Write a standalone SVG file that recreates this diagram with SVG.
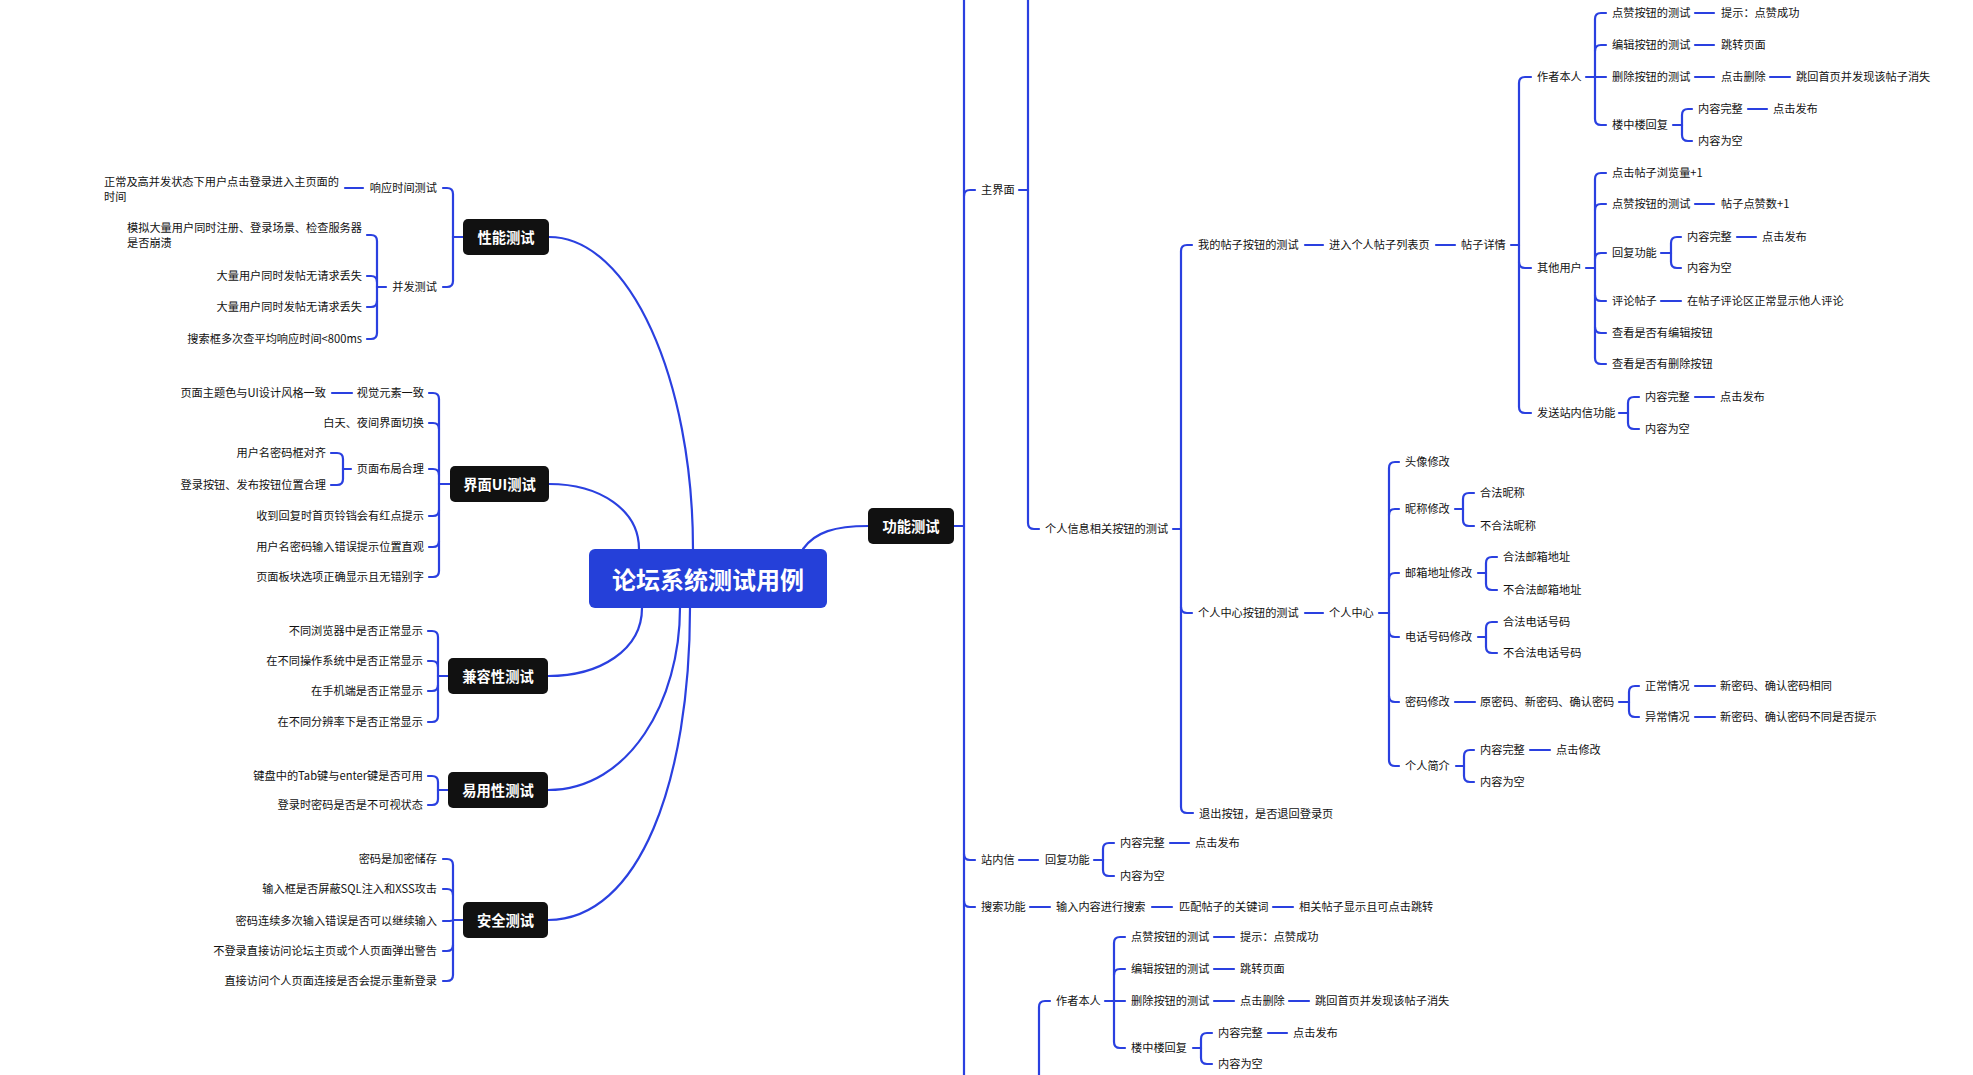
<svg xmlns="http://www.w3.org/2000/svg" width="1973" height="1075" viewBox="0 0 1973 1075">
<style>
.t{font-family:"Noto Sans CJK SC","Liberation Sans",sans-serif;font-size:11.2px;fill:#111;dominant-baseline:central}
.e{text-anchor:end}
.n{font-family:"Noto Sans CJK SC","Liberation Sans",sans-serif;font-size:14.3px;font-weight:bold;fill:#fff;text-anchor:middle;dominant-baseline:central}
.r{font-family:"Noto Sans CJK SC","Liberation Sans",sans-serif;font-size:24px;font-weight:bold;fill:#fff;text-anchor:middle;dominant-baseline:central}
.c path{fill:none;stroke:#2a40e0;stroke-width:2.2;stroke-linecap:round}
.box{fill:#111}
.up{transform:translate(0px,-1px)}
</style>
<rect width="1973" height="1075" fill="#fff"/>
<g class="c" id="connectors">
<path d="M549,237 C630,237 693,380 693,549"/>
<path d="M549,484 C600,484 639,510 639,549"/>
<path d="M548,676 C600,676 642,650 642,608"/>
<path d="M548,790 C630,790 680,700 680,608"/>
<path d="M548,920 C640,920 690,780 690,608"/>
<path d="M803,549 C815,532 835,526 868,526"/>
<path d="M463,237 H453"/>
<path d="M453,237 V194 Q453,188 447,188 H443"/>
<path d="M453,237 V281 Q453,287 447,287 H443"/>
<path d="M363,188 H345"/>
<path d="M386,287 H377"/>
<path d="M377,287 V241 Q377,235 371,235 H367"/>
<path d="M377,282 Q377,276 371,276 H367"/>
<path d="M377,301 Q377,307 371,307 H367"/>
<path d="M377,287 V333 Q377,339 371,339 H367"/>
<path d="M450,484 H439"/>
<path d="M439,484 V399 Q439,393 433,393 H429"/>
<path d="M439,429 Q439,423 433,423 H429"/>
<path d="M439,475 Q439,469 433,469 H429"/>
<path d="M439,510 Q439,516 433,516 H429"/>
<path d="M439,541 Q439,547 433,547 H429"/>
<path d="M439,484 V571 Q439,577 433,577 H429"/>
<path d="M352,393 H332"/>
<path d="M351,469 H343"/>
<path d="M343,469 V459 Q343,453 337,453 H331"/>
<path d="M343,469 V479 Q343,485 337,485 H331"/>
<path d="M448,676 H438"/>
<path d="M438,676 V637 Q438,631 432,631 H428"/>
<path d="M438,667 Q438,661 432,661 H428"/>
<path d="M438,685 Q438,691 432,691 H428"/>
<path d="M438,676 V716 Q438,722 432,722 H428"/>
<path d="M448,790 H438"/>
<path d="M438,790 V782 Q438,776 432,776 H428"/>
<path d="M438,790 V799 Q438,805 432,805 H428"/>
<path d="M463,920 H453"/>
<path d="M453,920 V865 Q453,859 447,859 H443"/>
<path d="M453,895 Q453,889 447,889 H443"/>
<path d="M453,920 Q453,921 447,921 H443"/>
<path d="M453,945 Q453,951 447,951 H443"/>
<path d="M453,920 V975 Q453,981 447,981 H443"/>
<path d="M954,526 H964"/>
<path d="M964,0 V1075"/>
<path d="M964,196 Q964,190 970,190 H975"/>
<path d="M964,854 Q964,860 970,860 H975"/>
<path d="M964,901 Q964,907 970,907 H975"/>
<path d="M1019,190 H1028"/>
<path d="M1028,0 V523 Q1028,529 1034,529 H1039"/>
<path d="M1173,529 H1181"/>
<path d="M1181,529 V251 Q1181,245 1187,245 H1192"/>
<path d="M1181,607 Q1181,613 1187,613 H1192"/>
<path d="M1181,529 V807 Q1181,813 1187,813 H1193"/>
<path d="M1305,245 H1323"/>
<path d="M1436,245 H1455"/>
<path d="M1511,245 H1519"/>
<path d="M1519,245 V83 Q1519,77 1525,77 H1531"/>
<path d="M1519,262 Q1519,268 1525,268 H1531"/>
<path d="M1519,245 V407 Q1519,413 1525,413 H1531"/>
<path d="M1586,77 H1595"/>
<path d="M1595,77 V19 Q1595,13 1601,13 H1606"/>
<path d="M1595,51 Q1595,45 1601,45 H1606"/>
<path d="M1595,77 H1606"/>
<path d="M1595,77 V119 Q1595,125 1601,125 H1606"/>
<path d="M1695,13 H1714"/>
<path d="M1695,45 H1714"/>
<path d="M1695,77 H1714"/>
<path d="M1770,77 H1790"/>
<path d="M1673,125 H1682"/>
<path d="M1682,125 V115 Q1682,109 1688,109 H1692"/>
<path d="M1682,125 V135 Q1682,141 1688,141 H1692"/>
<path d="M1748,109 H1767"/>
<path d="M1586,268 H1595"/>
<path d="M1595,268 V179 Q1595,173 1601,173 H1606"/>
<path d="M1595,210 Q1595,204 1601,204 H1606"/>
<path d="M1595,259 Q1595,253 1601,253 H1606"/>
<path d="M1595,295 Q1595,301 1601,301 H1606"/>
<path d="M1595,327 Q1595,333 1601,333 H1606"/>
<path d="M1595,268 V358 Q1595,364 1601,364 H1606"/>
<path d="M1695,204 H1714"/>
<path d="M1661,253 H1671"/>
<path d="M1671,253 V243 Q1671,237 1677,237 H1681"/>
<path d="M1671,253 V262 Q1671,268 1677,268 H1681"/>
<path d="M1737,237 H1756"/>
<path d="M1661,301 H1681"/>
<path d="M1619,413 H1628"/>
<path d="M1628,413 V403 Q1628,397 1634,397 H1639"/>
<path d="M1628,413 V423 Q1628,429 1634,429 H1639"/>
<path d="M1695,397 H1714"/>
<path d="M1305,613 H1323"/>
<path d="M1379,613 H1389"/>
<path d="M1389,613 V468 Q1389,462 1395,462 H1399"/>
<path d="M1389,515 Q1389,509 1395,509 H1399"/>
<path d="M1389,579 Q1389,573 1395,573 H1399"/>
<path d="M1389,631 Q1389,637 1395,637 H1399"/>
<path d="M1389,696 Q1389,702 1395,702 H1399"/>
<path d="M1389,613 V760 Q1389,766 1395,766 H1399"/>
<path d="M1455,509 H1463"/>
<path d="M1463,509 V499 Q1463,493 1469,493 H1474"/>
<path d="M1463,509 V520 Q1463,526 1469,526 H1474"/>
<path d="M1478,573 H1486"/>
<path d="M1486,573 V563 Q1486,557 1492,557 H1497"/>
<path d="M1486,573 V584 Q1486,590 1492,590 H1497"/>
<path d="M1478,637 H1486"/>
<path d="M1486,637 V628 Q1486,622 1492,622 H1497"/>
<path d="M1486,637 V647 Q1486,653 1492,653 H1497"/>
<path d="M1455,702 H1475"/>
<path d="M1619,702 H1629"/>
<path d="M1629,702 V692 Q1629,686 1635,686 H1639"/>
<path d="M1629,702 V711 Q1629,717 1635,717 H1639"/>
<path d="M1695,686 H1715"/>
<path d="M1695,717 H1715"/>
<path d="M1456,766 H1464"/>
<path d="M1464,766 V756 Q1464,750 1470,750 H1474"/>
<path d="M1464,766 V776 Q1464,782 1470,782 H1474"/>
<path d="M1530,750 H1550"/>
<path d="M1019,860 H1038"/>
<path d="M1094,860 H1103"/>
<path d="M1103,860 V849 Q1103,843 1109,843 H1114"/>
<path d="M1103,860 V870 Q1103,876 1109,876 H1114"/>
<path d="M1170,843 H1189"/>
<path d="M1030,907 H1050"/>
<path d="M1152,907 H1172"/>
<path d="M1273,907 H1293"/>
<path d="M1039,1075 V1007 Q1039,1001 1045,1001 H1050"/>
<path d="M1105,1001 H1114"/>
<path d="M1114,1001 V943 Q1114,937 1120,937 H1125"/>
<path d="M1114,975 Q1114,969 1120,969 H1125"/>
<path d="M1114,1001 H1125"/>
<path d="M1114,1001 V1042 Q1114,1048 1120,1048 H1125"/>
<path d="M1214,937 H1234"/>
<path d="M1214,969 H1234"/>
<path d="M1214,1001 H1234"/>
<path d="M1289,1001 H1309"/>
<path d="M1193,1048 H1201"/>
<path d="M1201,1048 V1039 Q1201,1033 1207,1033 H1212"/>
<path d="M1201,1048 V1058 Q1201,1064 1207,1064 H1212"/>
<path d="M1268,1033 H1287"/>
</g>

<g id="root"><rect x="589" y="549" width="238" height="59" rx="6" fill="#2540d9"/><text class="r" x="708" y="578">论坛系统测试用例</text></g>
<g id="n-perf"><rect class="box" x="463" y="219" width="86" height="36" rx="5"/><text class="n" x="506" y="236">性能测试</text></g>
<g id="n-ui"><rect class="box" x="450" y="466" width="99" height="36" rx="5"/><text class="n" x="499.5" y="483">界面UI测试</text></g>
<g id="n-compat"><rect class="box" x="448" y="658" width="100" height="36" rx="5"/><text class="n" x="498" y="675">兼容性测试</text></g>
<g id="n-usab"><rect class="box" x="448" y="772" width="100" height="36" rx="5"/><text class="n" x="498" y="789">易用性测试</text></g>
<g id="n-sec"><rect class="box" x="463" y="902" width="85" height="36" rx="5"/><text class="n" x="505.5" y="919">安全测试</text></g>
<g id="n-func"><rect class="box" x="868" y="508" width="86" height="36" rx="5"/><text class="n" x="911" y="525">功能测试</text></g>

<g id="left-perf" class="up">
<text class="t e" x="437" y="188">响应时间测试</text>
<text class="t" x="104" y="182">正常及高并发状态下用户点击登录进入主页面的</text>
<text class="t" x="104" y="197">时间</text>
<text class="t e" x="437" y="287">并发测试</text>
<text class="t" x="127" y="228">模拟大量用户同时注册、登录场景、检查服务器</text>
<text class="t" x="127" y="243">是否崩溃</text>
<text class="t e" x="362" y="276">大量用户同时发帖无请求丢失</text>
<text class="t e" x="362" y="307">大量用户同时发帖无请求丢失</text>
<text class="t e" x="362" y="339">搜索框多次查平均响应时间&lt;800ms</text>
</g>
<g id="left-ui" class="up">
<text class="t e" x="424" y="393">视觉元素一致</text>
<text class="t e" x="326" y="393">页面主题色与UI设计风格一致</text>
<text class="t e" x="424" y="423">白天、夜间界面切换</text>
<text class="t e" x="424" y="469">页面布局合理</text>
<text class="t e" x="326" y="453">用户名密码框对齐</text>
<text class="t e" x="326" y="485">登录按钮、发布按钮位置合理</text>
<text class="t e" x="424" y="516">收到回复时首页铃铛会有红点提示</text>
<text class="t e" x="424" y="547">用户名密码输入错误提示位置直观</text>
<text class="t e" x="424" y="577">页面板块选项正确显示且无错别字</text>
</g>
<g id="left-compat" class="up">
<text class="t e" x="423" y="631">不同浏览器中是否正常显示</text>
<text class="t e" x="423" y="661">在不同操作系统中是否正常显示</text>
<text class="t e" x="423" y="691">在手机端是否正常显示</text>
<text class="t e" x="423" y="722">在不同分辨率下是否正常显示</text>
</g>
<g id="left-usab" class="up">
<text class="t e" x="423" y="776">键盘中的Tab键与enter键是否可用</text>
<text class="t e" x="423" y="805">登录时密码是否是不可视状态</text>
</g>
<g id="left-sec" class="up">
<text class="t e" x="437" y="859">密码是加密储存</text>
<text class="t e" x="437" y="889">输入框是否屏蔽SQL注入和XSS攻击</text>
<text class="t e" x="437" y="921">密码连续多次输入错误是否可以继续输入</text>
<text class="t e" x="437" y="951">不登录直接访问论坛主页或个人页面弹出警告</text>
<text class="t e" x="437" y="981">直接访问个人页面连接是否会提示重新登录</text>
</g>

<g id="right-main" class="up">
<text class="t" x="981" y="190">主界面</text>
<text class="t" x="1045" y="529">个人信息相关按钮的测试</text>
<text class="t" x="1198" y="245">我的帖子按钮的测试</text>
<text class="t" x="1329" y="245">进入个人帖子列表页</text>
<text class="t" x="1461" y="245">帖子详情</text>
<text class="t" x="1537" y="77">作者本人</text>
<text class="t" x="1612" y="13">点赞按钮的测试</text>
<text class="t" x="1721" y="13">提示：点赞成功</text>
<text class="t" x="1612" y="45">编辑按钮的测试</text>
<text class="t" x="1721" y="45">跳转页面</text>
<text class="t" x="1612" y="77">删除按钮的测试</text>
<text class="t" x="1721" y="77">点击删除</text>
<text class="t" x="1796" y="77">跳回首页并发现该帖子消失</text>
<text class="t" x="1612" y="125">楼中楼回复</text>
<text class="t" x="1698" y="109">内容完整</text>
<text class="t" x="1773" y="109">点击发布</text>
<text class="t" x="1698" y="141">内容为空</text>
<text class="t" x="1537" y="268">其他用户</text>
<text class="t" x="1612" y="173">点击帖子浏览量+1</text>
<text class="t" x="1612" y="204">点赞按钮的测试</text>
<text class="t" x="1721" y="204">帖子点赞数+1</text>
<text class="t" x="1612" y="253">回复功能</text>
<text class="t" x="1687" y="237">内容完整</text>
<text class="t" x="1762" y="237">点击发布</text>
<text class="t" x="1687" y="268">内容为空</text>
<text class="t" x="1612" y="301">评论帖子</text>
<text class="t" x="1687" y="301">在帖子评论区正常显示他人评论</text>
<text class="t" x="1612" y="333">查看是否有编辑按钮</text>
<text class="t" x="1612" y="364">查看是否有删除按钮</text>
<text class="t" x="1537" y="413">发送站内信功能</text>
<text class="t" x="1645" y="397">内容完整</text>
<text class="t" x="1720" y="397">点击发布</text>
<text class="t" x="1645" y="429">内容为空</text>
</g>
<g id="right-center" class="up">
<text class="t" x="1198" y="613">个人中心按钮的测试</text>
<text class="t" x="1329" y="613">个人中心</text>
<text class="t" x="1405" y="462">头像修改</text>
<text class="t" x="1405" y="509">昵称修改</text>
<text class="t" x="1480" y="493">合法昵称</text>
<text class="t" x="1480" y="526">不合法昵称</text>
<text class="t" x="1405" y="573">邮箱地址修改</text>
<text class="t" x="1503" y="557">合法邮箱地址</text>
<text class="t" x="1503" y="590">不合法邮箱地址</text>
<text class="t" x="1405" y="637">电话号码修改</text>
<text class="t" x="1503" y="622">合法电话号码</text>
<text class="t" x="1503" y="653">不合法电话号码</text>
<text class="t" x="1405" y="702">密码修改</text>
<text class="t" x="1480" y="702">原密码、新密码、确认密码</text>
<text class="t" x="1645" y="686">正常情况</text>
<text class="t" x="1720" y="686">新密码、确认密码相同</text>
<text class="t" x="1645" y="717">异常情况</text>
<text class="t" x="1720" y="717">新密码、确认密码不同是否提示</text>
<text class="t" x="1405" y="766">个人简介</text>
<text class="t" x="1480" y="750">内容完整</text>
<text class="t" x="1556" y="750">点击修改</text>
<text class="t" x="1480" y="782">内容为空</text>
<text class="t" x="1199" y="814">退出按钮，是否退回登录页</text>
</g>
<g id="right-lower" class="up">
<text class="t" x="981" y="860">站内信</text>
<text class="t" x="1045" y="860">回复功能</text>
<text class="t" x="1120" y="843">内容完整</text>
<text class="t" x="1195" y="843">点击发布</text>
<text class="t" x="1120" y="876">内容为空</text>
<text class="t" x="981" y="907">搜索功能</text>
<text class="t" x="1056" y="907">输入内容进行搜索</text>
<text class="t" x="1179" y="907">匹配帖子的关键词</text>
<text class="t" x="1299" y="907">相关帖子显示且可点击跳转</text>
<text class="t" x="1056" y="1001">作者本人</text>
<text class="t" x="1131" y="937">点赞按钮的测试</text>
<text class="t" x="1240" y="937">提示：点赞成功</text>
<text class="t" x="1131" y="969">编辑按钮的测试</text>
<text class="t" x="1240" y="969">跳转页面</text>
<text class="t" x="1131" y="1001">删除按钮的测试</text>
<text class="t" x="1240" y="1001">点击删除</text>
<text class="t" x="1315" y="1001">跳回首页并发现该帖子消失</text>
<text class="t" x="1131" y="1048">楼中楼回复</text>
<text class="t" x="1218" y="1033">内容完整</text>
<text class="t" x="1293" y="1033">点击发布</text>
<text class="t" x="1218" y="1064">内容为空</text>
</g>
</svg>
